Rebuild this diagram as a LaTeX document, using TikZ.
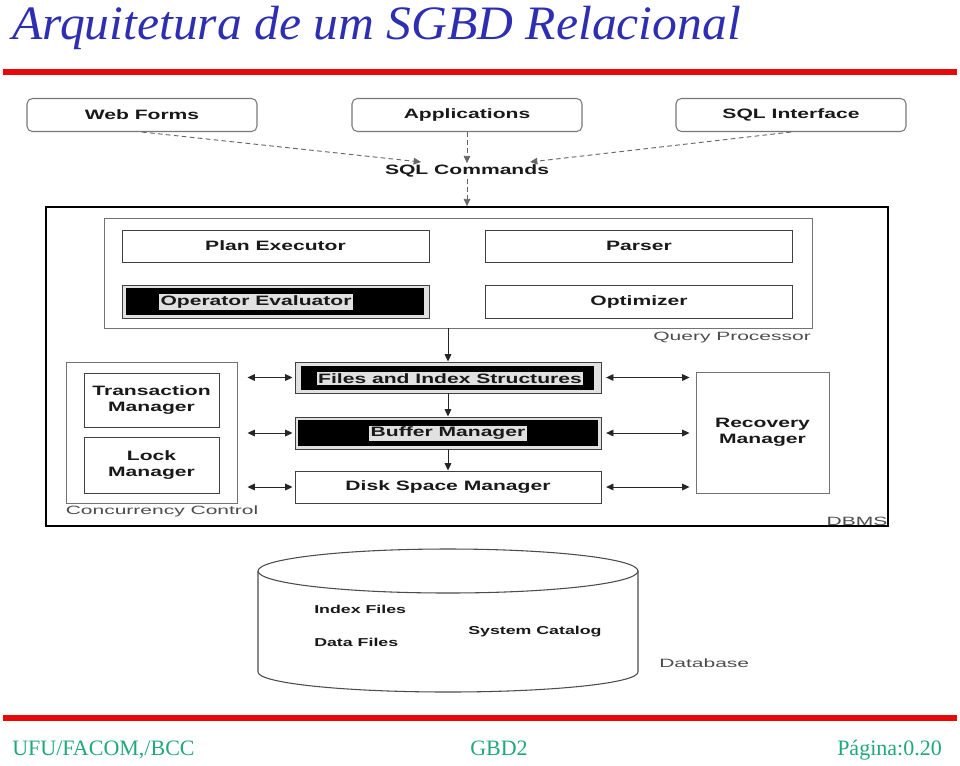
\documentclass[tikz,border=0pt]{standalone}
\usepackage{fontspec}
\setmainfont{Liberation Serif}
\newfontfamily\ttlfont{Liberation Serif}[FakeStretch=1.034]
\newfontfamily\bxfont{Liberation Sans}[FakeStretch=1.55]
\newfontfamily\rgfont{Liberation Sans}[FakeStretch=1.75]
\usetikzlibrary{arrows.meta}
\definecolor{ttlblue}{RGB}{46,46,178}
\definecolor{ftgreen}{RGB}{32,168,124}
\definecolor{redline}{RGB}{232,10,10}
\definecolor{bordergray}{RGB}{120,120,120}
\definecolor{patch}{RGB}{225,225,225}
\begin{document}
\begin{tikzpicture}[x=0.75pt,y=-0.75pt,
  lbl/.style={font=\bxfont\bfseries\fontsize{10.2pt}{12pt}\selectfont, text=black!90, align=center},
  smlbl/.style={font=\bxfont\bfseries\fontsize{8.6pt}{10pt}\selectfont, text=black!90, anchor=west, inner sep=0pt},
  captxt/.style={font=\rgfont\fontsize{9pt}{11pt}\selectfont, text=black!70, inner sep=0pt},
  topbox/.style={draw=bordergray, rounded corners=4pt, line width=0.8pt, minimum width=172.5pt, minimum height=24.75pt, lbl},
  pbox/.style={draw=black!75, line width=0.7pt, lbl, inner sep=0pt},
  grpbox/.style={draw=black!55, line width=0.7pt, inner sep=0pt},
  blk/.style={fill=black, draw=none, inner sep=0pt},
  txpatch/.style={lbl, fill=patch, inner sep=1.2pt},
  arr/.style={draw=black!85, line width=0.7pt, -{Triangle[length=5.5pt,width=5pt]}},
  dblarr/.style={draw=black!85, line width=0.7pt, {Triangle[length=5.5pt,width=5pt]}-{Triangle[length=5.5pt,width=5pt]}},
  dasharr/.style={draw=black!60, line width=0.7pt, dash pattern=on 3.5pt off 2.5pt, -{Triangle[length=5.5pt,width=5pt]}},
  redrule/.style={draw=redline, line width=3.8pt},
  ftxt/.style={inner sep=0pt, text=ftgreen, font=\fontsize{16.5pt}{19pt}\selectfont}
]
\useasboundingbox (0,0) rectangle (960,765);

% title and rules
\node[anchor=base west, inner sep=0pt, text=ttlblue, font=\ttlfont\itshape\fontsize{36pt}{42pt}\selectfont] (title) at (12,39) {Arquitetura de um SGBD Relacional};
\coordinate (r1a) at (3,72); \coordinate (r1b) at (957,72);
\draw[redrule] (r1a) -- (r1b);
\coordinate (r2a) at (3,718); \coordinate (r2b) at (957,718);
\draw[redrule] (r2a) -- (r2b);

% footer
\node[ftxt, anchor=base west] (ft1) at (12,755) {UFU/FACOM,/BCC};
\node[ftxt, anchor=base] (ft2) at (499,755) {GBD2};
\node[ftxt, anchor=base east] (ft3) at (942,755) {Página:0.20};

% top boxes
\node[topbox] (web) at (142,115) {Web Forms};
\node[topbox] (app) at (467,115) {Applications};
\node[topbox] (sqli) at (791,115) {SQL Interface};
\node[lbl, inner sep=1pt] (sqlc) at (467,171) {SQL Commands};

% DBMS
\node[draw=black, line width=1.3pt, minimum width=631.5pt, minimum height=239.25pt, inner sep=0pt] (dbms) at (467,366.5) {};
\node[captxt, anchor=south east] (dbmsl) at ([xshift=-1pt,yshift=1pt]dbms.south east) {DBMS};

% Query processor
\node[grpbox, minimum width=531pt, minimum height=82.5pt] (qp) at (458,273) {};
\node[captxt, anchor=north east] (qpl) at ([xshift=-1pt,yshift=-2.5pt]qp.south east) {Query Processor};
\node[pbox, minimum width=230.25pt, minimum height=24pt] (plan) at (275.5,246) {Plan Executor};
\node[pbox, minimum width=230.25pt, minimum height=24pt] (parser) at (639,246) {Parser};
\node[pbox, fill=patch, minimum width=230.25pt, minimum height=24.75pt] (opev) at (275.5,301.5) {};
\node[blk, minimum width=223.5pt, minimum height=20.25pt] (opevb) at (275,301.5) {};
\node[txpatch] (opevt) at (256,302) {Operator Evaluator};
\node[pbox, minimum width=230.25pt, minimum height=24.75pt] (optim) at (639,301.5) {Optimizer};

% storage layers
\node[pbox, fill=patch, minimum width=229.5pt, minimum height=23.25pt] (files) at (448,377.5) {};
\node[blk, minimum width=219.75pt, minimum height=18pt] (filesb) at (447.5,378) {};
\node[txpatch] (filest) at (450,378.5) {Files and Index Structures};
\node[pbox, fill=patch, minimum width=229.5pt, minimum height=24pt] (buf) at (448,433) {};
\node[blk, minimum width=225pt, minimum height=19.5pt] (bufb) at (448,433) {};
\node[txpatch] (buft) at (448,433.5) {Buffer Manager};
\node[pbox, minimum width=229.5pt, minimum height=24pt] (disk) at (448,487) {Disk Space Manager};

% concurrency control
\node[grpbox, minimum width=128.25pt, minimum height=105.75pt] (cc) at (151.5,432.5) {};
\node[captxt, anchor=north west] (ccl) at ([yshift=-1.5pt]cc.south west) {Concurrency Control};
\node[pbox, minimum width=101.25pt, minimum height=40.5pt] (tm) at (151.5,400) {Transaction\\Manager};
\node[pbox, minimum width=101.25pt, minimum height=42pt] (lm) at (151.5,465) {Lock\\Manager};

% recovery
\node[pbox, draw=black!55, minimum width=99.75pt, minimum height=90.75pt] (rm) at (762.5,432.5) {Recovery\\Manager};

% connectors top
\coordinate (sqlcl) at (421,162);
\coordinate (sqlcr) at (530,162);
\draw[dasharr] (web.south) -- (sqlcl);
\draw[dasharr] (app.south) -- (sqlc.north);
\draw[dasharr] (sqli.south) -- (sqlcr);
\draw[dasharr] (sqlc.south) -- (dbms.north);

% vertical flow
\draw[arr] (files.north |- qp.south) -- (files.north);
\draw[arr] (files.south) -- (buf.north);
\draw[arr] (buf.south) -- (disk.north);

% side arrows
\foreach \n in {files,buf,disk}{
  \draw[dblarr] ([xshift=7.5pt]cc.east |- \n.west) -- ([xshift=-1.5pt]\n.west);
  \draw[dblarr] ([xshift=3.5pt]\n.east) -- ([xshift=-4.5pt]rm.west |- \n.east);
}

% database cylinder
\draw[draw=black!70, line width=0.8pt, fill=white] (258,571) -- (258,672) arc[start angle=180, end angle=0, x radius=190, y radius=20] -- (638,571);
\draw[draw=black!70, line width=0.8pt, fill=white] (448,571) ellipse[x radius=190, y radius=22];
\node[smlbl] (idx) at (314,609) {Index Files};
\node[smlbl] (dat) at (314,642) {Data Files};
\node[smlbl] (cat) at (468,632) {System Catalog};
\node[captxt, anchor=west] (dbase) at (659,663) {Database};
\end{tikzpicture}
\end{document}
